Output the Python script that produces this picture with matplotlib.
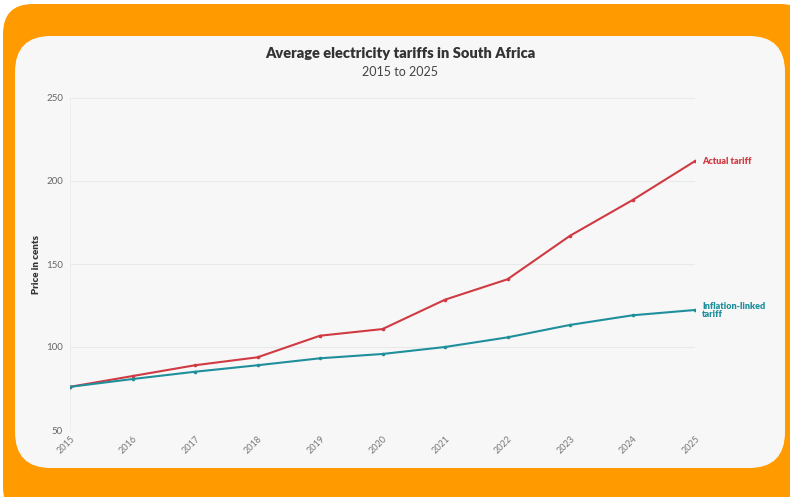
import matplotlib.pyplot as plt
from matplotlib.patches import FancyBboxPatch

# data
years = [2015, 2016, 2017, 2018, 2019, 2020, 2021, 2022, 2023, 2024, 2025]
actual_tariff = [76, 82.5, 89, 93.8, 106.8, 110.8, 128.5, 140.8, 167, 188.5, 212]
inflation_tariff = [76, 80.7, 85.1, 89, 93.2, 95.8, 100, 105.8, 113.3, 119.1, 122.3]
y_ticks = [50, 100, 150, 200, 250]

RED = "#d03a42"
TEAL = "#1e8f9b"
ORANGE = "#ff9a00"
PANEL = "#f7f7f7"

plt.rcParams['font.family'] = ['Lato', 'DejaVu Sans']

W, H = 790, 497
fig = plt.figure(figsize=(W / 100, H / 100), dpi=100)
fig.patch.set_facecolor("white")

# background shapes, drawn in pixel coordinates
bg = fig.add_axes([0, 0, 1, 1])
bg.set_xlim(0, W)
bg.set_ylim(H, 0)
bg.axis("off")
bg.add_patch(FancyBboxPatch((3 + 30, 4 + 30), W + 20 - 3 - 60, H + 20 - 4 - 60,
                            boxstyle="round,pad=30", fc=ORANGE, ec="none"))
bg.add_patch(FancyBboxPatch((15 + 36, 36 + 36), 785 - 15 - 72, 468 - 36 - 72,
                            boxstyle="round,pad=36", fc=PANEL, ec="none"))

# main chart
ax = fig.add_axes([70 / W, (H - 430) / H, (695 - 70) / W, (430 - 98) / H])
ax.set_facecolor("none")
ax.plot(years, actual_tariff, color=RED, lw=1.5, marker="o", ms=1.6, zorder=3)
ax.plot(years, inflation_tariff, color=TEAL, lw=1.5, marker="o", ms=1.6, zorder=3)

ax.set_xlim(2015, 2025)
ax.set_ylim(50, 250)
ax.set_yticks(y_ticks)
ax.set_xticks(years)
ax.set_xticklabels([str(y) for y in years], rotation=45, ha="right",
                   rotation_mode="anchor", fontsize=6.5, color="#777777")
ax.tick_params(axis="y", labelsize=7, colors="#666666", length=0, pad=5)
ax.tick_params(axis="x", length=0, pad=3)
ax.grid(axis="y", color="#e9e9e9", lw=0.8)
for s in ax.spines.values():
    s.set_visible(False)
ax.spines["left"].set_visible(True)
ax.spines["left"].set_color("#ececec")
ax.spines["left"].set_linewidth(0.6)

ax.set_ylabel("Price in cents", fontsize=7, fontweight="heavy", color="#333333",
              labelpad=4)

# line-end labels
ax.annotate("Actual tariff", xy=(2025, actual_tariff[-1]), xytext=(5, 0),
            textcoords="offset points", color=RED, fontsize=6.5,
            fontweight="heavy", va="center", ha="left", annotation_clip=False)
ax.annotate("Inflation-linked\ntariff", xy=(2025, inflation_tariff[-1]),
            xytext=(5, -0.5), textcoords="offset points", color=TEAL, fontsize=6.5,
            fontweight="heavy", va="center", ha="left", linespacing=0.85,
            annotation_clip=False)

fig.text(400 / W, 1 - 53 / H, "Average electricity tariffs in South Africa",
         ha="center", va="center", fontsize=10.5, fontweight="heavy",
         color="#333333")
fig.text(400 / W, 1 - 72 / H, "2015 to 2025", ha="center", va="center",
         fontsize=9, color="#444444")

fig.savefig("out.png", dpi=100)
